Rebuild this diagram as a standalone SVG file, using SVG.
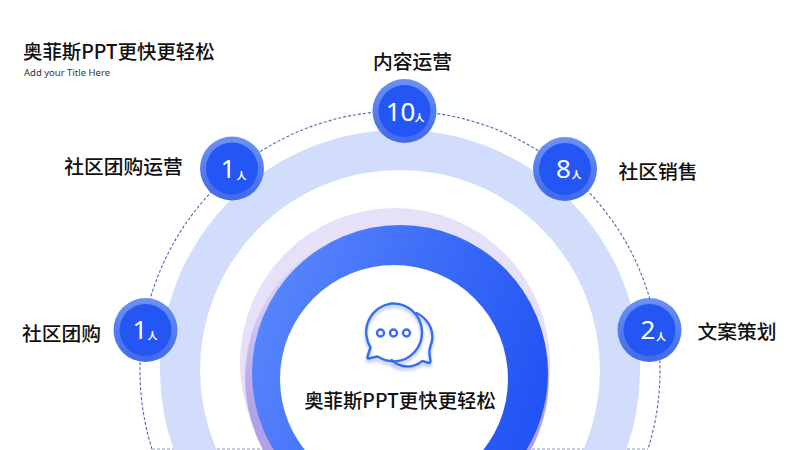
<svg xmlns="http://www.w3.org/2000/svg" width="800" height="450" viewBox="0 0 800 450">
<defs>
<style>
text{font-family:"Noto Sans CJK SC","Noto Sans",sans-serif;fill:#111}
.lbl{font-size:19.8px;font-weight:500;text-anchor:middle}
.num{font-size:26px;fill:#fff;text-anchor:middle;font-family:"Noto Sans",sans-serif;font-weight:400}
.unit{font-size:10px;fill:#fff;text-anchor:middle;font-weight:700}
.halo{fill:url(#h)}
.core{fill:#2456f4}
.ic{fill:none;stroke:#3a6cf2;stroke-width:2.400;stroke-linejoin:round;stroke-linecap:round}
</style>
<linearGradient id="g" x1="0" y1="0.2" x2="1" y2="0.55"><stop offset="0" stop-color="#5b88fc"/><stop offset="0.55" stop-color="#3b6bf8"/><stop offset="1" stop-color="#2253f3"/></linearGradient>
<linearGradient id="p" x1="0" y1="0" x2="0" y2="1"><stop offset="0" stop-color="#e6e0f8"/><stop offset="0.25" stop-color="#d6cdf3"/><stop offset="0.6" stop-color="#b2a2e8"/><stop offset="1" stop-color="#ac9ce6"/></linearGradient>
<linearGradient id="h" x1="0" y1="0" x2="0" y2="1"><stop offset="0" stop-color="#6c92f3"/><stop offset="1" stop-color="#4169ea"/></linearGradient>
<filter id="b" x="-20%" y="-20%" width="140%" height="140%"><feGaussianBlur stdDeviation="1.500"/></filter>
</defs>
<rect width="800" height="450" fill="#fff"/>
<g id="connectors" fill="none" stroke-width="1.100" stroke-dasharray="3 2"><path d="M152 449A260 260 0 1 1 648 449" stroke="#4f66b0"/><path d="M152 449H648" stroke="#8f9cc4"/></g>
<g id="rings">
<circle cx="400" cy="370" r="220" fill="none" stroke="#d1ddfa" stroke-width="40"/>
<circle cx="395" cy="363" r="155" fill="#e6e0f8"/>
<circle cx="397" cy="378" r="152" fill="url(#p)"/>
<circle cx="400" cy="373" r="148" fill="url(#g)"/>
<circle cx="394" cy="379" r="114" fill="#fff"/>
</g>
<g id="center">
<g transform="translate(-1.500 0)">
<g filter="url(#b)" opacity=".4" transform="translate(0 3)"><path class="ic" d="M393 303.500a29 29 0 0 1 3 58c-6 0-12-2-17-5l-9 2c-1 0-1.500-1-1-2l3-9a29 29 0 0 1 21-44z"/><path class="ic" d="M418 313c14 7 19 21 14 33-1 3-1.500 5-1 8l1 7c0 2-1 2-2 2l-6-2c-9 6-22 8-33 0"/></g>
<path class="ic" d="M418 313c14 7 19 21 14 33-1 3-1.500 5-1 8l1 7c0 2-1 2-2 2l-6-2c-9 7-21 8-31-1"/>
<path class="ic" fill="#fff" d="M393 303.500a29 29 0 0 1 3 58c-6 0-12-2-17-5l-9 2c-1 0-1.500-1-1-2l3-9a29 29 0 0 1 21-44z"/>
<circle class="ic" cx="382" cy="333" r="3.500"/><circle class="ic" cx="395" cy="333" r="3.500"/><circle class="ic" cx="408" cy="333" r="3.500"/>
</g>
<text class="lbl" x="400" y="408" style="font-size:19.400px">奥菲斯PPT更快更轻松</text>
</g>
<g id="title"><text x="23" y="59" style="font-size:19.400px;font-weight:500">奥菲斯PPT更快更轻松</text><text x="24" y="76" style="font-size:9.500px;font-family:'Noto Sans',sans-serif;fill:#333">Add your Title Here</text></g>
<g id="n1"><circle class="halo" cx="404.500" cy="111" r="32"/><circle class="core" cx="404.500" cy="111" r="26"/><text class="num" x="400.500" y="121">10</text><text class="unit" x="419.500" y="122">人</text><text class="lbl" x="412.500" y="69">内容运营</text></g>
<g id="n2"><circle class="halo" cx="232" cy="168.500" r="32"/><circle class="core" cx="232" cy="168.500" r="26"/><text class="num" x="228" y="178">1</text><text class="unit" x="241.500" y="180">人</text><text class="lbl" x="123.500" y="174">社区团购运营</text></g>
<g id="n3"><circle class="halo" cx="145.500" cy="330" r="32"/><circle class="core" cx="145.500" cy="330" r="26"/><text class="num" x="140" y="338.500">1</text><text class="unit" x="152.500" y="340">人</text><text class="lbl" x="61.500" y="341">社区团购</text></g>
<g id="n4"><circle class="halo" cx="565" cy="169" r="32"/><circle class="core" cx="565" cy="169" r="26"/><text class="num" x="563.500" y="177.500">8</text><text class="unit" x="576.500" y="178.500">人</text><text class="lbl" x="658" y="179">社区销售</text></g>
<g id="n5"><circle class="halo" cx="649.500" cy="330" r="32"/><circle class="core" cx="649.500" cy="330" r="26"/><text class="num" x="648" y="339">2</text><text class="unit" x="661" y="341">人</text><text class="lbl" x="737" y="339">文案策划</text></g>
</svg>
